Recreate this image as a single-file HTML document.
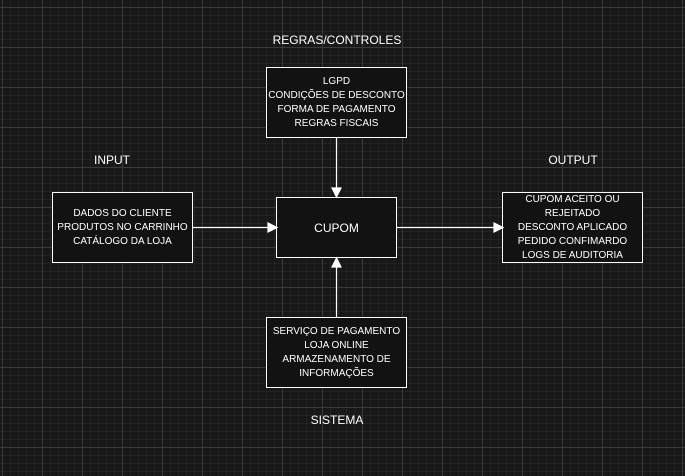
<!DOCTYPE html>
<html><head><meta charset="utf-8"><style>
html,body{margin:0;padding:0;}
body{width:685px;height:476px;overflow:hidden;background:#181818;
background-image:
linear-gradient(#3a3a3a 1px,transparent 1px),
linear-gradient(90deg,#3a3a3a 1px,transparent 1px),
linear-gradient(#222 1px,transparent 1px),
linear-gradient(90deg,#222 1px,transparent 1px);
background-size:40px 40px,40px 40px,8px 8px,8px 8px;
background-position:0 7px,2px 0,0 7px,2px 0;
font-family:"Liberation Sans",Arial,sans-serif;color:#fff;position:relative;}
.b{position:absolute;box-sizing:border-box;border:1.5px solid #fff;background:#121212;display:flex;align-items:center;justify-content:center;text-align:center;font-size:10px;line-height:14px;}
.l{position:absolute;font-size:12px;text-align:center;width:200px;}
svg{position:absolute;left:0;top:0;}
</style></head><body>
<div class="l" style="left:237px;top:33px">REGRAS/CONTROLES</div>
<div class="l" style="left:12px;top:153px">INPUT</div>
<div class="l" style="left:473px;top:153px">OUTPUT</div>
<div class="l" style="left:237px;top:413px">SISTEMA</div>
<div class="b" style="left:266px;top:67px;width:141px;height:71px">LGPD<br>CONDIÇÕES DE DESCONTO<br>FORMA DE PAGAMENTO<br>REGRAS FISCAIS</div>
<div class="b" style="left:52px;top:192px;width:141px;height:71px">DADOS DO CLIENTE<br>PRODUTOS NO CARRINHO<br>CATÁLOGO DA LOJA</div>
<div class="b" style="left:276px;top:197px;width:121px;height:61px;font-size:12px">CUPOM</div>
<div class="b" style="left:502px;top:192px;width:141px;height:71px">CUPOM ACEITO OU<br>REJEITADO<br>DESCONTO APLICADO<br>PEDIDO CONFIMARDO<br>LOGS DE AUDITORIA</div>
<div class="b" style="left:266px;top:317px;width:141px;height:71px">SERVIÇO DE PAGAMENTO<br>LOJA ONLINE<br>ARMAZENAMENTO DE<br>INFORMAÇÕES</div>
<svg width="685" height="476">
<g stroke="#fff" stroke-width="1.2" fill="#fff">
<line x1="336.5" y1="138" x2="336.5" y2="190"/>
<polygon points="332,188 341,188 336.5,197"/>
<line x1="193" y1="227.5" x2="270" y2="227.5"/>
<polygon points="268,223 268,232 277,227.5"/>
<line x1="397" y1="227.5" x2="496" y2="227.5"/>
<polygon points="494,223 494,232 503,227.5"/>
<line x1="336.5" y1="317" x2="336.5" y2="265"/>
<polygon points="332,267 341,267 336.5,258"/>
</g></svg>
</body></html>
